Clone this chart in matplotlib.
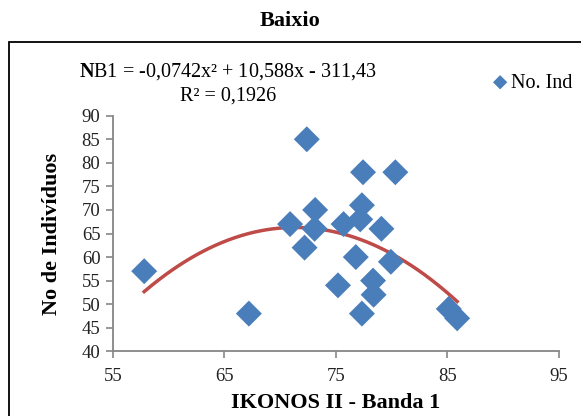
import numpy as np
import matplotlib.pyplot as plt
from matplotlib.patches import Rectangle

plt.rcParams['font.family'] = ['Liberation Serif', 'DejaVu Serif']
plt.rcParams['mathtext.fontset'] = 'custom'
plt.rcParams['mathtext.rm'] = 'Liberation Serif'
plt.rcParams['mathtext.bf'] = 'Liberation Serif:bold'

# IKONOS II band 1 vs number of individuals
banda1 = [57.8, 67.2, 70.9, 72.4, 72.2, 73.15, 73.1, 75.2, 75.7, 76.8, 77.2,
          77.35, 77.45, 77.35, 78.35, 78.4, 79.1, 80.35, 79.95, 85.15, 85.9]
n_ind = [57, 48, 67, 85, 62, 70, 66, 54, 67, 60, 68,
         71, 78, 48, 55, 52, 66, 78, 59, 49, 47]

# polynomial trend as printed on the chart
coef = [-0.0742, 10.588, -311.43]

fig = plt.figure(figsize=(5.81, 4.16), dpi=100)
ax = fig.add_axes([113/581, 1-351.3/416, (558.5-113)/581, (351.3-115.7)/416])

# outer chart frame
fig.patches.append(Rectangle((9/581, -0.1), 1.2, 1.1-42/416, transform=fig.transFigure,
                             fill=False, edgecolor='black', linewidth=1.3))

xs = np.linspace(min(banda1), max(banda1), 200)
ax.plot(xs, np.polyval(coef, xs), color='#be4b48', linewidth=2.5, zorder=2)
ax.scatter(banda1, n_ind, marker='D', s=175, color='#4a7ebb', zorder=3,
           label='No. Ind', edgecolors='none')

ax.set_xlim(55, 95)
ax.set_ylim(40, 90)
ax.set_xticks([55, 65, 75, 85, 95])
ax.set_yticks(range(40, 91, 5))
for s in ['top', 'right']:
    ax.spines[s].set_visible(False)
for s in ['left', 'bottom']:
    ax.spines[s].set_color('#868686')
    ax.spines[s].set_linewidth(1.3)
ax.tick_params(colors='#868686', labelcolor='#222222', labelsize=13.5, length=5, width=1.2)
ax.tick_params(axis='x', pad=7)
ax.tick_params(axis='y', pad=4)

ax.set_xlabel('IKONOS II - Banda 1', fontsize=16, fontweight='bold', labelpad=6)
ax.set_ylabel('No de Indivíduos', fontsize=16, fontweight='bold', labelpad=14)
fig.text(0.5, 1-21/416, 'Baixio', ha='center', va='center', fontsize=16, fontweight='bold')

fig.text(228/581, 1-72/416, r'$\mathbf{N}$B1 = -0,0742x² + 10,588x - 311,43',
         ha='center', va='center', fontsize=14.5)
fig.text(228/581, 1-96/416, 'R² = 0,1926', ha='center', va='center', fontsize=14.5)

fig.legend(loc='center left', bbox_to_anchor=(480/581, 1-83/416), frameon=False,
           fontsize=14.5, handletextpad=0.05, handlelength=1.0, markerscale=0.55, borderpad=0)

fig.savefig('out.png', dpi=100)
